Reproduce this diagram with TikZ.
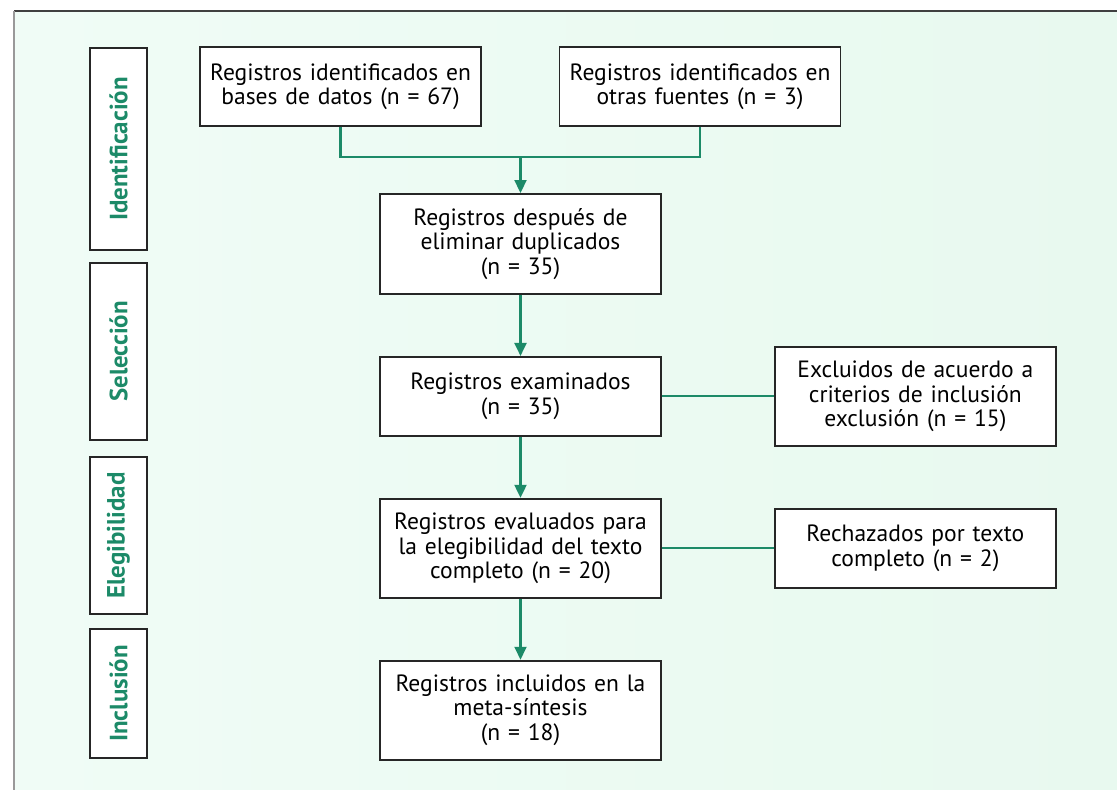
\documentclass[tikz,border=0pt]{standalone}
\usepackage{fontspec}
\setmainfont{PT Sans}
\usetikzlibrary{arrows.meta,positioning}
\definecolor{prismagreen}{RGB}{28,138,104}
\definecolor{mintleft}{RGB}{240,252,246}
\definecolor{mintright}{RGB}{232,249,239}
\tikzset{
	record/.style={
		rectangle,
		draw=black!85,
		line width=1.1pt,
		fill=white,
		align=center,
		text width=5.5cm,
		minimum width=5.62cm,
		inner sep=0pt,
		font=\fontsize{13.4}{13.9}\selectfont,
	},
	phase/.style={
		rectangle,
		draw=black!85,
		line width=1.1pt,
		fill=white,
		rotate=90,
		minimum height=1.14cm,
		inner sep=0pt,
		text=prismagreen,
		font=\fontsize{14.2}{15}\selectfont\bfseries,
	},
	flow/.style={
		-{Triangle[length=0.26cm,width=0.24cm]},
		prismagreen,
		line width=1.15pt,
	},
	side/.style={
		prismagreen,
		line width=1.15pt,
	}
}

\begin{document}
\begin{tikzpicture}[x=0.02cm,y=-0.02cm,node distance=1.22cm and 2.24cm]

\useasboundingbox (0,0) rectangle (1117,790);
\fill[left color=mintleft,right color=mintright] (14,11) rectangle (1117,790);
\draw[black!75,line width=1.4pt] (14,11) -- (1117,11);
\draw[black!40,line width=0.6pt] (14,11) -- (14,790);

% phases
\node[phase,minimum width=4.04cm] (ident) at (118.5,149) {Identificación};
\node[phase,minimum width=3.54cm] (selec) at (118.5,351.5) {Selección};
\node[phase,minimum width=3.14cm] (eleg) at (118.5,535.5) {Elegibilidad};
\node[phase,minimum width=2.58cm] (incl) at (118.5,693.5) {Inclusión};

% records
\node[record,minimum height=1.58cm] (db) at (340.5,86.5) {Registros identificados en\\bases de datos (n = 67)};
\node[record,minimum height=1.58cm] (other) at (700,86.5) {Registros identificados en\\otras fuentes (n = 3)};
\node[record,minimum height=2.0cm] (dup) at (520.5,244) {Registros después de\\eliminar duplicados\\(n = 35)};
\node[record,minimum height=1.58cm] (exam) [below=of dup] {Registros examinados\\(n = 35)};
\node[record,minimum height=1.98cm] (excl) [right=of exam] {Excluidos de acuerdo a\\criterios de inclusión\\exclusión (n = 15)};
\node[record,minimum height=1.98cm] (eval) [below=of exam] {Registros evaluados para\\la elegibilidad del texto\\completo (n = 20)};
\node[record,minimum height=1.58cm] (rej) [right=of eval] {Rechazados por texto\\completo (n = 2)};
\node[record,minimum height=1.98cm] (incd) [below=of eval] {Registros incluidos en la\\meta-síntesis\\(n = 18)};

\coordinate (join) at (520.5,157);

\draw[side] (db.south) |- (join) -| (other.south);
\draw[flow] (join) -- (dup.north);
\draw[flow] (dup) -- (exam);
\draw[flow] (exam) -- (eval);
\draw[flow] (eval) -- (incd);
\draw[side] (exam) -- (excl);
\draw[side] (eval) -- (rej);

\end{tikzpicture}
\end{document}
